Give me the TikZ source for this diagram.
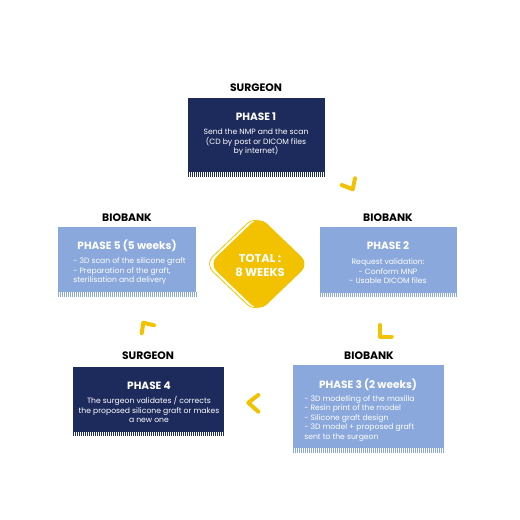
\documentclass[tikz,border=0pt]{standalone}
\usepackage{fontspec}
\setmainfont{Poppins}
\usetikzlibrary{positioning}

\definecolor{navy}{RGB}{29,42,92}
\definecolor{lightblue}{RGB}{138,168,220}
\definecolor{gold}{RGB}{242,194,0}

% box with hatched band under it: x1,y1,x2,y2,band bottom,colour
\newcommand{\stripedbox}[6]{%
  \fill[#6] (#1,#2) rectangle (#3,#4);
  \foreach \xx in {#1,...,#3}{%
    \pgfmathparse{mod(\xx-#1,2)==0}
    \ifnum\pgfmathresult=1
      \draw[#6, line width=0.75pt] (\xx+0.5,#4) -- (\xx+0.5,#5);
    \fi
  }%
}

\tikzset{
  actor/.style={font=\fontsize{8.1pt}{9pt}\selectfont\bfseries, text=black, inner sep=0pt},
  phasetitle/.style={font=\fontsize{7.9pt}{9pt}\selectfont\bfseries, text=white, inner sep=0pt},
  phasetext/.style={font=\fontsize{5.75pt}{7.1pt}\selectfont, text=white, inner sep=0pt},
  chevron/.style={draw=gold, line width=3pt, line cap=round, line join=round}
}

\begin{document}
\begin{tikzpicture}[x=0.75pt,y=0.75pt,yscale=-1,xscale=1]
\useasboundingbox (0,0) rectangle (520,520);

% Boxes
\stripedbox{188}{98}{325}{172}{177}{navy}
\stripedbox{320}{227}{457}{293}{297}{lightblue}
\stripedbox{293}{365}{444}{448}{453}{lightblue}
\stripedbox{73}{367}{224}{432}{436}{navy}
\stripedbox{58}{227}{196}{292}{297}{lightblue}

% Actors
\node[actor] (who1) at (256,88) {SURGEON};
\node[actor] (who2) at (388,218) {BIOBANK};
\node[actor] (who3) at (369,356) {BIOBANK};
\node[actor] (who4) at (148,356) {SURGEON};
\node[actor] (who5) at (127,218) {BIOBANK};

% Phase 1
\node[phasetitle] (title1) at (256,117) {PHASE 1};
\node[phasetext, align=center] (text1) at (256,142.5) {Send the NMP and the scan\\(CD by post or DICOM files\\by internet)};
% Phase 2
\node[phasetitle] (title2) at (388,246) {PHASE 2};
\node[phasetext, align=center] (text2) at (388,271.5) {Request validation:\\- Conform MNP\\- Usable DICOM files};
% Phase 3
\node[phasetitle] (title3) at (368,385) {PHASE 3 (2 weeks)};
\node[phasetext, align=left, anchor=west] (text3) at (304,418.5) {- 3D modelling of the maxilla\\- Resin print of the model\\- Silicone graft design\\- 3D model + proposed graft\\sent to the surgeon};
% Phase 4
\node[phasetitle] (title4) at (149,386) {PHASE 4};
\node[phasetext, align=center] (text4) at (149,409.5) {The surgeon validates / corrects\\the proposed silicone graft or makes\\a new one};
% Phase 5
\node[phasetitle] (title5) at (127,246) {PHASE 5 (5 weeks)};
\node[phasetext, align=left, anchor=west] (text5) at (73,271.5) {- 3D scan of the silicone graft\\- Preparation of the graft,\\sterilisation and delivery};

% Total diamond
\draw[gold, line width=0.6pt, rounded corners=8pt] (255,216) -- (305,264) -- (255,312) -- (205,264) -- cycle;
\fill[gold, rounded corners=8pt] (259,216) -- (309,264) -- (259,312) -- (209,264) -- cycle;
\node[font=\fontsize{8.6pt}{10pt}\selectfont\bfseries, text=white, align=center, inner sep=0pt] (total) at (260,265.5) {TOTAL :\\8 WEEKS};

% Chevrons
\draw[chevron] (341.7,185) -- (352.7,189.3) -- (355,178.3);
\draw[chevron] (380,325) -- (380,336.7) -- (391.7,336.7);
\draw[chevron] (258.3,395) -- (248.3,402.7) -- (258.3,411.7);
\draw[chevron] (141.7,333.3) -- (143.3,322.7) -- (154,325.3);

\end{tikzpicture}
\end{document}
